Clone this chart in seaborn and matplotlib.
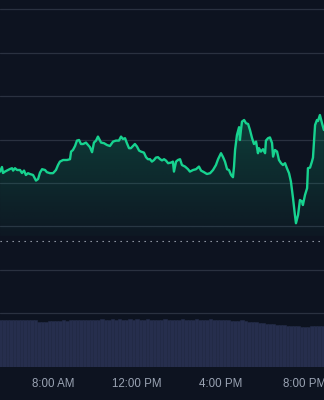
import numpy as np
import pandas as pd
import matplotlib
matplotlib.use("Agg")
import matplotlib.pyplot as plt
import seaborn as sns
from matplotlib.patches import PathPatch
from matplotlib.colors import to_rgb

# ---------------- data ----------------
# time of day in decimal hours
times = [5.48, 5.57, 5.62, 5.71, 5.86, 5.95, 6.05, 6.10, 6.19, 6.29, 6.43, 6.52, 6.62, 6.71,
         6.81, 6.90, 7.05, 7.19, 7.29, 7.38, 7.48, 7.62, 7.71, 7.86, 8.00, 8.14, 8.24, 8.33,
         8.48, 8.67, 8.81, 8.86, 8.95, 9.05, 9.14, 9.24, 9.33, 9.43, 9.57, 9.67, 9.76, 9.86,
         9.95, 10.05, 10.14, 10.19, 10.29, 10.43, 10.57, 10.71, 10.86, 11.00, 11.14, 11.24,
         11.33, 11.43, 11.52, 11.62, 11.71, 11.81, 11.90, 12.00, 12.10, 12.19, 12.33, 12.43,
         12.52, 12.62, 12.71, 12.81, 12.90, 13.00, 13.10, 13.19, 13.29, 13.38, 13.48, 13.62,
         13.71, 13.76, 13.86, 13.95, 14.05, 14.14, 14.29, 14.43, 14.52, 14.67, 14.81, 14.95,
         15.05, 15.19, 15.33, 15.48, 15.62, 15.76, 15.86, 16.00, 16.10, 16.19, 16.29, 16.38,
         16.48, 16.57, 16.62, 16.67, 16.76, 16.86, 16.90, 16.95, 17.00, 17.10, 17.19, 17.29,
         17.38, 17.48, 17.57, 17.67, 17.76, 17.81, 17.90, 18.00, 18.10, 18.14, 18.24, 18.33,
         18.43, 18.48, 18.57, 18.67, 18.76, 18.86, 18.95, 19.05, 19.14, 19.24, 19.33, 19.43,
         19.52, 19.57, 19.67, 19.76, 19.86, 19.90, 20.00, 20.10, 20.14, 20.24, 20.33, 20.38,
         20.48, 20.57, 20.62, 20.71, 20.81, 20.90]
prices = [152.77, 153.00, 152.70, 152.77, 152.85, 152.90, 152.94, 152.82, 152.94, 152.85, 152.85,
          152.70, 152.82, 152.60, 152.69, 152.65, 152.60, 152.32, 152.40, 152.72, 152.89, 152.85,
          152.74, 152.69, 152.69, 152.85, 153.10, 153.27, 153.35, 153.35, 153.39, 153.77, 153.85,
          154.05, 154.32, 154.35, 154.15, 154.15, 154.22, 154.10, 153.99, 153.74, 154.22, 154.32,
          154.52, 154.42, 154.22, 154.19, 154.10, 154.05, 154.27, 154.32, 154.32, 154.52, 154.40,
          154.44, 154.19, 153.94, 153.94, 154.05, 154.15, 154.02, 153.82, 153.77, 153.72, 153.49,
          153.39, 153.39, 153.27, 153.35, 153.47, 153.49, 153.39, 153.33, 153.39, 153.32, 153.19,
          153.22, 153.27, 152.77, 153.27, 153.35, 153.39, 153.10, 153.02, 152.89, 152.77, 152.85,
          152.89, 153.02, 152.82, 152.74, 152.65, 152.69, 152.85, 153.10, 153.39, 153.69, 153.49,
          153.27, 152.89, 152.85, 152.60, 152.49, 153.02, 153.85, 154.60, 154.99, 154.35, 154.85,
          155.27, 155.35, 155.19, 155.15, 154.85, 154.44, 154.15, 154.27, 153.69, 153.94, 153.77,
          153.89, 153.69, 154.32, 154.44, 154.48, 154.20, 153.52, 153.85, 153.77, 153.35, 153.19,
          153.10, 153.19, 152.94, 152.69, 152.27, 151.44, 150.60, 150.19, 150.60, 151.35, 151.27,
          151.10, 151.60, 151.94, 152.94, 152.97, 153.27, 153.47, 155.10, 155.35, 155.30, 155.60,
          155.19, 154.85]
prev_close = 149.30

# 10-minute volume bars (thousands of shares), starting 5:20
vol_start, vol_step = 5 + 20 / 60, 1 / 6
volumes = [940, 945, 935, 940,
           945, 940, 935, 945, 940, 935,
           940, 935, 905, 895, 900, 920,
           925, 930, 930, 935, 930, 935,
           935, 940, 945, 950, 945, 950,
           950, 945, 955, 950, 945, 955,
           950, 955, 945, 950, 955, 950,
           955, 950, 945, 955, 950, 950,
           945, 950, 955, 950, 945, 950,
           950, 955, 950, 945, 950, 955,
           950, 945, 950, 955, 950, 945,
           940, 945, 935, 930, 925, 930,
           935, 920, 910, 900, 895, 885,
           875, 870, 860, 855, 850, 845,
           835, 830, 825, 820, 815, 810,
           810, 810, 815, 815, 820, 825,
           825]
vol_times = vol_start + vol_step * np.arange(len(volumes))

tick_hours = [8, 12, 16, 20]
tick_labels = ["8:00 AM", "12:00 PM", "4:00 PM", "8:00 PM"]

# ---------------- style ----------------
BG = "#0d1320"
LINE = "#17d28f"
FILLC = "#10b981"
GRID = "#2a3140"
VOLC = "#262e4d"
TXT = "#9aa3b3"

sns.set_theme(style="dark")
plt.rcParams["font.family"] = ["Liberation Sans", "DejaVu Sans"]

df = pd.DataFrame({"t": times, "p": prices})

fig = plt.figure(figsize=(3.24, 4.0), dpi=100, facecolor=BG)
ax = fig.add_axes([0, 33 / 400, 1, 367 / 400])
ax.set_facecolor(BG)

xlim = (5.476, 20.905)
ylim = (143.0, 161.35)
grid_levels = [160.88, 158.71, 156.54, 154.37, 152.20, 150.03, 147.86, 145.69, 143.52]
fill_base = 149.55

# gradient fill under line
poly = ax.fill_between(times, prices, fill_base, color="none", lw=0)
path = poly.get_paths()[0]
patch = PathPatch(path, transform=ax.transData, facecolor="none", edgecolor="none")
ax.add_patch(patch)
r, g, b = to_rgb(FILLC)
n = 256
alphas = np.linspace(0.26, 0.03, n)
img = np.zeros((n, 2, 4))
img[:, :, 0], img[:, :, 1], img[:, :, 2] = r, g, b
img[:, :, 3] = alphas[:, None]
top = max(prices)
im = ax.imshow(img, extent=[xlim[0], xlim[1], fill_base, top], aspect="auto",
               origin="upper", zorder=1, interpolation="bilinear")
im.set_clip_path(patch)

sns.lineplot(data=df, x="t", y="p", ax=ax, color=LINE, lw=1.7, zorder=3)

ax.axhline(prev_close, color="#a5acb8", lw=0.8, ls=(0, (1.2, 4.2)), zorder=2)

ax.set_xlim(*xlim)
ax.set_ylim(*ylim)
ax.set_yticks(grid_levels)
ax.grid(axis="y", color=GRID, lw=0.9, zorder=0)
ax.grid(axis="x", visible=False)
ax.set_axisbelow(True)
ax.tick_params(left=False, bottom=False, labelleft=False, labelbottom=False)
ax.set_xlabel("")
ax.set_ylabel("")
for s in ax.spines.values():
    s.set_visible(False)

# volume axes
vax = fig.add_axes([0, 33 / 400, 1, 67 / 400])
vax.patch.set_alpha(0)
vax.bar(vol_times, volumes, width=vol_step, color=VOLC, edgecolor="#232b47",
        linewidth=0.4, align="center")
vax.set_xlim(*xlim)
vax.set_ylim(0, 1340)
vax.set_xticks(tick_hours)
vax.set_xticklabels(tick_labels)
vax.set_yticks([])
vax.grid(False)
vax.tick_params(axis="x", length=0, pad=8, labelsize=8.3, colors=TXT)
for s in vax.spines.values():
    s.set_visible(False)

fig.savefig("out.png", dpi=100, facecolor=BG)
